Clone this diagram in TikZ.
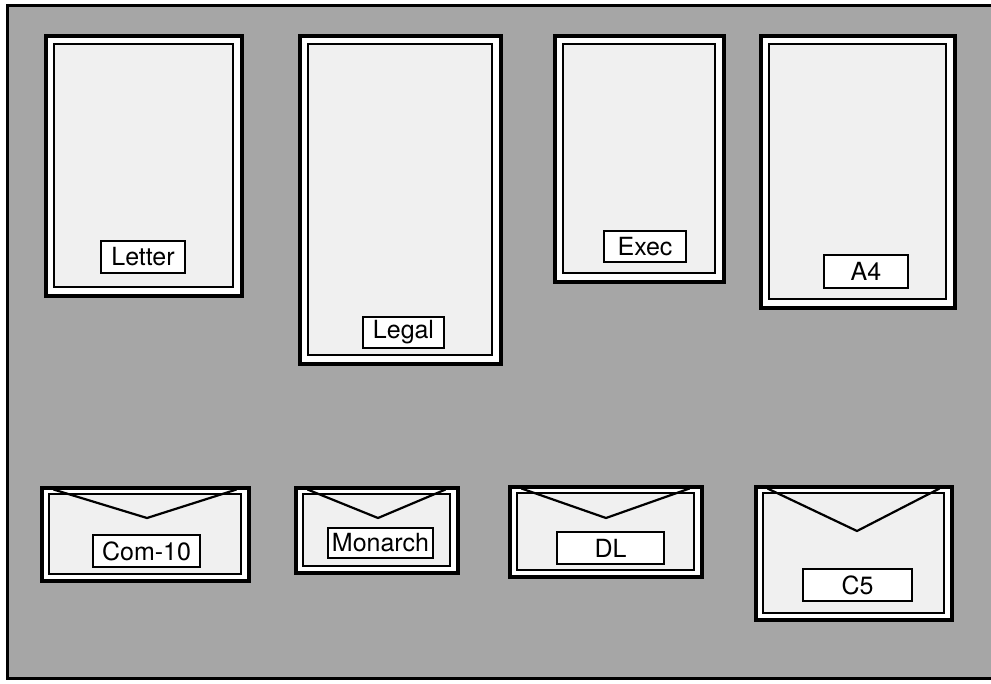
\documentclass[tikz,border=0pt]{standalone}
\usepackage{fontspec}
\setmainfont{TeX Gyre Heros}
\usetikzlibrary{positioning}

\definecolor{bggray}{gray}{0.65}
\definecolor{paper}{gray}{0.94}

\tikzset{
  outer/.style={draw=black,line width=4pt,fill=white},
  inner/.style={draw=black,line width=2pt,fill=paper},
  flap/.style={draw=black,line width=2.2pt,line join=miter},
  tag/.style={draw=black,line width=1.6pt,fill=white,inner sep=0pt,
    font=\fontsize{25}{28}\selectfont}
}

\begin{document}
\begin{tikzpicture}[x=1pt,y=-1pt]
\useasboundingbox (0,0) rectangle (991,683);
% backdrop and frame
\fill[white] (0,0) rectangle (991,683);
\fill[bggray] (7,5) rectangle (991,678);
\draw[line width=3pt] (991,5) -- (7,5) -- (7,678) -- (991,678);
% paper sheets (top row)
\foreach \xa/\ya/\xb/\yb in {45.5/35.5/241.5/295.5, 299.5/35.5/500.5/363.5, 554.5/35.5/723.5/281.5, 760.5/35.5/954.5/307.5}{
  \draw[outer] (\xa,\ya) rectangle (\xb,\yb);
  \draw[inner] (\xa+8.5,\ya+8.5) rectangle (\xb-8.5,\yb-8.5);
}
% envelopes (bottom row)
\foreach \xa/\ya/\xb/\yb/\ax/\ay in {41.5/487.5/248.5/580.5/147/518, 295.5/487.5/457.5/572.5/378/518, 509.5/486.5/701.5/576.5/606/518, 755.5/486.5/951.5/619.5/857/531}{
  \draw[outer] (\xa,\ya) rectangle (\xb,\yb);
  \draw[inner] (\xa+7.5,\ya+6.5) rectangle (\xb-7.5,\yb-6.5);
  \draw[flap] (\xa+12,\ya+2) -- (\ax,\ay) -- (\xb-12,\ya+2);
}
% size labels
\node[tag,minimum width=84pt,minimum height=32pt] (letter) at (143,257) {Letter};
\node[tag,minimum width=81pt,minimum height=31pt] (legal) at (403.5,332.5) {Legal};
\node[tag,minimum width=82pt,minimum height=31pt] (exec) at (645,246.5) {Exec};
\node[tag,minimum width=84pt,minimum height=33pt] (afour) at (866,271.5) {A4};
\node[tag,minimum width=107pt,minimum height=32pt] (comten) at (146.5,551) {Com-10};
\node[tag,minimum width=105pt,minimum height=30pt] (monarch) at (380.5,543) {Monarch};
\node[tag,minimum width=107pt,minimum height=32pt] (dl) at (610.5,548) {DL};
\node[tag,minimum width=109pt,minimum height=32pt] (cfive) at (857.5,585) {C5};
\end{tikzpicture}
\end{document}
